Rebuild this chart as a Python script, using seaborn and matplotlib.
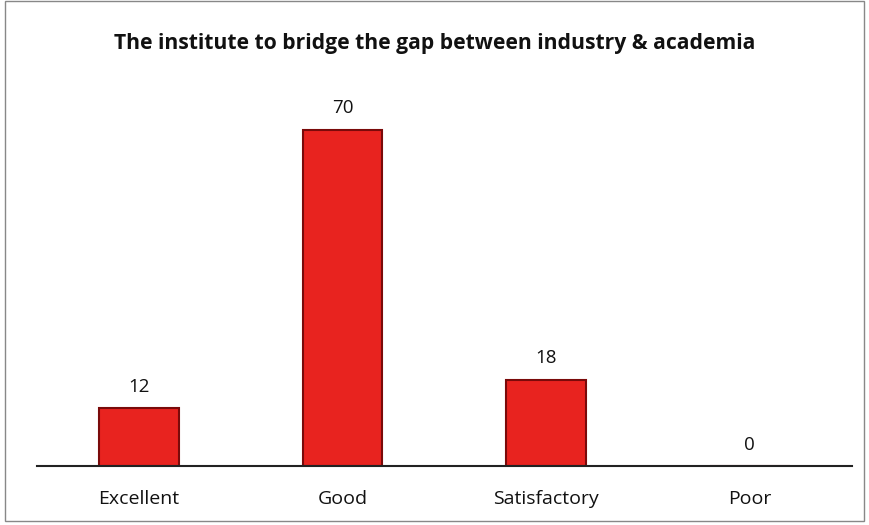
import matplotlib
matplotlib.use("Agg")
import matplotlib.pyplot as plt
import seaborn as sns
import pandas as pd

categories = ["Excellent", "Good", "Satisfactory", "Poor"]
values = [12, 70, 18, 0]
title = "The institute to bridge the gap between industry & academia"

sns.set_style("white")
plt.rcParams['font.family'] = ['Open Sans', 'DejaVu Sans']

df = pd.DataFrame({"rating": categories, "count": values})

fig = plt.figure(figsize=(8.69, 5.25), dpi=100)
ax = fig.add_axes([0.0426, 0.1124, 0.9374, 0.7316])

sns.barplot(data=df, x="rating", y="count", order=categories, color="#E8231F",
            width=0.39, edgecolor="#7A0A0A", linewidth=1.5, saturation=1, ax=ax)

for i, v in enumerate(values):
    ax.text(i, v + 2.6, str(v), ha="center", va="bottom", fontsize=13.5, color="#111111")

ax.set_ylim(0, 80)
ax.set_xlim(-0.5, 3.5)
ax.set_yticks([])
ax.set_xlabel("")
ax.set_ylabel("")
for s in ["top", "right", "left"]:
    ax.spines[s].set_visible(False)
ax.spines["bottom"].set_color("#222222")
ax.spines["bottom"].set_linewidth(1.5)
ax.tick_params(axis="x", length=0, pad=17, labelsize=14, labelcolor="#111111")

fig.text(0.5, 0.918, title, ha="center", va="center", fontsize=15.2, fontweight="bold", color="#111111")

# outer frame
fig.patches.append(plt.Rectangle((0.006, 0.008), 0.988, 0.99, transform=fig.transFigure,
                                 fill=False, edgecolor="#888888", linewidth=1))

fig.savefig("out.png", dpi=100)
